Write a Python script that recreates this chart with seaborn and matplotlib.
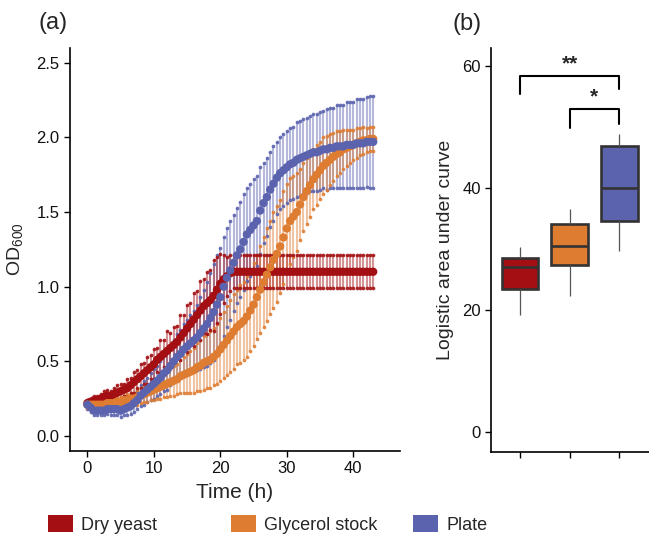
import numpy as np
import pandas as pd
import matplotlib
matplotlib.use("Agg")
import matplotlib.pyplot as plt
from matplotlib.patches import Patch
import seaborn as sns

sns.set_theme(style="ticks")
plt.rcParams["font.family"] = ["Liberation Sans", "DejaVu Sans"]
plt.rcParams["mathtext.fontset"] = "custom"
plt.rcParams["mathtext.rm"] = "Liberation Sans"
plt.rcParams["mathtext.it"] = "Liberation Sans:italic"

# growth curves, sampled every 30 min from 0 to 43 h
time_h = np.arange(0, 43.5, 0.5)

dry_mean = [0.22, 0.23, 0.24, 0.24, 0.25, 0.26, 0.27, 0.27, 0.28, 0.29,
            0.30, 0.31, 0.32, 0.34, 0.36, 0.38, 0.40, 0.42, 0.44, 0.46,
            0.48, 0.51, 0.53, 0.55, 0.57, 0.59, 0.61, 0.63, 0.66, 0.69,
            0.72, 0.75, 0.78, 0.81, 0.84, 0.87, 0.89, 0.91, 0.94, 0.98,
            1.02, 1.05, 1.07, 1.09, 1.10, 1.10, 1.10, 1.10, 1.10, 1.10,
            1.10, 1.10, 1.10, 1.10, 1.10, 1.10, 1.10, 1.10, 1.10, 1.10,
            1.10, 1.10, 1.10, 1.10, 1.10, 1.10, 1.10, 1.10, 1.10, 1.10,
            1.10, 1.10, 1.10, 1.10, 1.10, 1.10, 1.10, 1.10, 1.10, 1.10,
            1.10, 1.10, 1.10, 1.10, 1.10, 1.10, 1.10]
dry_sd = [0.02, 0.02, 0.03, 0.03, 0.03, 0.04, 0.04, 0.03, 0.04, 0.05,
          0.05, 0.04, 0.06, 0.05, 0.07, 0.06, 0.08, 0.07, 0.09, 0.08,
          0.10, 0.08, 0.11, 0.09, 0.13, 0.10, 0.12, 0.11, 0.15, 0.12,
          0.16, 0.14, 0.18, 0.16, 0.20, 0.18, 0.21, 0.20, 0.24, 0.22,
          0.20, 0.16, 0.13, 0.12, 0.11, 0.11, 0.11, 0.11, 0.11, 0.11,
          0.11, 0.11, 0.11, 0.11, 0.11, 0.11, 0.11, 0.11, 0.11, 0.11,
          0.11, 0.11, 0.11, 0.11, 0.11, 0.11, 0.11, 0.11, 0.11, 0.11,
          0.11, 0.11, 0.11, 0.11, 0.11, 0.11, 0.11, 0.11, 0.11, 0.11,
          0.11, 0.11, 0.11, 0.11, 0.11, 0.11, 0.11]

gly_mean = [0.21, 0.21, 0.21, 0.21, 0.21, 0.21, 0.22, 0.22, 0.22, 0.23,
            0.23, 0.24, 0.24, 0.25, 0.25, 0.26, 0.27, 0.28, 0.29, 0.30,
            0.31, 0.32, 0.33, 0.34, 0.35, 0.36, 0.37, 0.38, 0.40, 0.41,
            0.42, 0.43, 0.44, 0.46, 0.47, 0.49, 0.50, 0.51, 0.53, 0.55,
            0.58, 0.61, 0.64, 0.67, 0.70, 0.73, 0.75, 0.77, 0.80, 0.84,
            0.88, 0.93, 0.98, 1.03, 1.08, 1.13, 1.18, 1.22, 1.27, 1.33,
            1.39, 1.44, 1.47, 1.50, 1.55, 1.60, 1.64, 1.68, 1.72, 1.75,
            1.78, 1.81, 1.83, 1.85, 1.87, 1.89, 1.90, 1.92, 1.93, 1.94,
            1.95, 1.96, 1.97, 1.98, 1.98, 1.99, 1.99]
gly_sd = [0.02, 0.02, 0.02, 0.02, 0.02, 0.03, 0.03, 0.03, 0.03, 0.03,
          0.03, 0.03, 0.04, 0.04, 0.04, 0.05, 0.05, 0.05, 0.06, 0.06,
          0.07, 0.07, 0.08, 0.08, 0.09, 0.09, 0.10, 0.10, 0.11, 0.12,
          0.13, 0.14, 0.15, 0.16, 0.17, 0.18, 0.18, 0.19, 0.19, 0.20,
          0.21, 0.22, 0.23, 0.24, 0.25, 0.25, 0.26, 0.26, 0.27, 0.27,
          0.28, 0.28, 0.29, 0.30, 0.31, 0.31, 0.32, 0.32, 0.31, 0.31,
          0.30, 0.29, 0.27, 0.26, 0.24, 0.23, 0.22, 0.21, 0.20, 0.20,
          0.19, 0.19, 0.18, 0.17, 0.16, 0.15, 0.14, 0.13, 0.12, 0.11,
          0.10, 0.10, 0.09, 0.09, 0.08, 0.08, 0.08]

plate_mean = [0.21, 0.19, 0.17, 0.17, 0.17, 0.17, 0.18, 0.18, 0.18, 0.18,
              0.17, 0.18, 0.19, 0.20, 0.22, 0.24, 0.27, 0.29, 0.31, 0.33,
              0.35, 0.37, 0.39, 0.42, 0.44, 0.47, 0.50, 0.53, 0.55, 0.58,
              0.60, 0.62, 0.64, 0.66, 0.69, 0.72, 0.75, 0.79, 0.83, 0.88,
              0.93, 1.00, 1.06, 1.11, 1.16, 1.21, 1.25, 1.30, 1.35, 1.38,
              1.41, 1.44, 1.51, 1.56, 1.60, 1.65, 1.69, 1.73, 1.76, 1.78,
              1.80, 1.82, 1.83, 1.85, 1.86, 1.87, 1.88, 1.89, 1.90, 1.90,
              1.91, 1.92, 1.92, 1.93, 1.93, 1.94, 1.94, 1.94, 1.95, 1.95,
              1.95, 1.96, 1.96, 1.96, 1.97, 1.97, 1.97]
plate_sd = [0.03, 0.03, 0.03, 0.03, 0.03, 0.03, 0.03, 0.04, 0.04, 0.04,
            0.04, 0.04, 0.05, 0.05, 0.06, 0.06, 0.07, 0.08, 0.08, 0.09,
            0.10, 0.10, 0.11, 0.12, 0.13, 0.13, 0.14, 0.15, 0.16, 0.17,
            0.18, 0.19, 0.20, 0.22, 0.24, 0.26, 0.28, 0.30, 0.32, 0.33,
            0.33, 0.33, 0.33, 0.33, 0.32, 0.32, 0.32, 0.32, 0.31, 0.31,
            0.31, 0.30, 0.29, 0.27, 0.26, 0.25, 0.25, 0.24, 0.24, 0.24,
            0.24, 0.24, 0.24, 0.25, 0.25, 0.25, 0.25, 0.25, 0.26, 0.26,
            0.26, 0.26, 0.27, 0.27, 0.27, 0.28, 0.28, 0.28, 0.29, 0.29,
            0.29, 0.30, 0.30, 0.30, 0.30, 0.31, 0.31]

# area under curve per source (five replicates each)
sources = ["Dry yeast", "Glycerol stock", "Plate"]
auc_dry = [19.2, 23.4, 27.1, 28.6, 30.3]
auc_gly = [22.3, 27.4, 30.5, 34.1, 36.5]
auc_plate = [29.7, 34.6, 40.0, 46.9, 48.9]

colors = {"Dry yeast": "#A30F12", "Glycerol stock": "#DE7C31", "Plate": "#5B63AE"}

curves = pd.concat([
    pd.DataFrame({"time": time_h, "od": dry_mean, "sd": dry_sd, "source": "Dry yeast"}),
    pd.DataFrame({"time": time_h, "od": gly_mean, "sd": gly_sd, "source": "Glycerol stock"}),
    pd.DataFrame({"time": time_h, "od": plate_mean, "sd": plate_sd, "source": "Plate"}),
], ignore_index=True)

boxes = pd.DataFrame({
    "source": np.repeat(sources, 5),
    "auc": auc_dry + auc_gly + auc_plate,
})

fig = plt.figure(figsize=(6.49, 5.56), dpi=100)
ax1 = fig.add_axes([0.108, 0.189, 0.508, 0.725])
ax2 = fig.add_axes([0.757, 0.187, 0.243, 0.727])

# panel a: error bars first, then the means
for src in ["Plate", "Glycerol stock", "Dry yeast"]:
    d = curves[curves.source == src]
    c = colors[src]
    ax1.vlines(d.time, d.od - d.sd, d.od + d.sd, color=c, alpha=0.45, lw=1.5, zorder=1)
    ax1.scatter(d.time, d.od - d.sd, s=7, color=c, alpha=0.9, lw=0, zorder=2)
    ax1.scatter(d.time, d.od + d.sd, s=7, color=c, alpha=0.9, lw=0, zorder=2)

sns.scatterplot(data=curves, x="time", y="od", hue="source", palette=colors,
                s=36, linewidth=0, legend=False, ax=ax1, zorder=3)

ax1.set_xlim(-2.6, 47)
ax1.set_ylim(-0.1, 2.6)
ax1.set_xticks([0, 10, 20, 30, 40])
ax1.set_yticks([0, 0.5, 1.0, 1.5, 2.0, 2.5])
ax1.set_yticklabels(["0.0", "0.5", "1.0", "1.5", "2.0", "2.5"])
ax1.set_xlabel("Time (h)", fontsize=15, labelpad=5)
ax1.set_ylabel("OD$_{600}$", fontsize=14, labelpad=8)

# panel b
sns.boxplot(data=boxes, x="source", y="auc", hue="source", palette=colors,
            order=sources, width=0.74, linewidth=1.9, linecolor="#333333",
            saturation=1, showcaps=False,
            whiskerprops={"color": "#555555", "linewidth": 0.9},
            legend=False, ax=ax2)
ax2.set_xlim(-0.58, 2.6)
ax2.set_ylim(-3.3, 63)
ax2.set_yticks([0, 20, 40, 60])
ax2.set_xticks([0, 1, 2])
ax2.set_xticklabels(["", "", ""])
ax2.set_xlabel("")
ax2.set_ylabel("Logistic area under curve", fontsize=14, labelpad=6)

# significance brackets
ax2.plot([0, 0, 2, 2], [55.5, 58.3, 58.3, 56.2], color="black", lw=1.5)
ax2.text(1, 58.8, "**", ha="center", va="bottom", fontsize=15, fontweight="bold")
ax2.plot([1, 1, 2, 2], [49.8, 52.9, 52.9, 50.5], color="black", lw=1.5)
ax2.text(1.5, 53.4, "*", ha="center", va="bottom", fontsize=15, fontweight="bold")

# panel letters
fig.text(38 / 649, 1 - 23 / 556, "(a)", fontsize=17, va="center", ha="left")
fig.text(453 / 649, 1 - 24 / 556, "(b)", fontsize=17, va="center", ha="left")

for ax in (ax1, ax2):
    sns.despine(ax=ax)
    ax.spines["left"].set_linewidth(1.2)
    ax.spines["bottom"].set_linewidth(1.2)
    ax.spines["left"].set_color("black")
    ax.spines["bottom"].set_color("black")
    ax.tick_params(labelsize=12, length=4, width=1.0, color="black", labelcolor="#111111")

# legend: three evenly spaced entries along the bottom
for src, x in zip(sources, [48, 231, 413]):
    fig.legend(handles=[Patch(facecolor=colors[src], edgecolor="none", label=src)],
               loc="center left", bbox_to_anchor=(x / 649, 0.057),
               frameon=False, fontsize=13, handlelength=1.38, handleheight=1.1,
               handletextpad=0.45, borderpad=0, borderaxespad=0)

fig.savefig("out.png", dpi=100)
